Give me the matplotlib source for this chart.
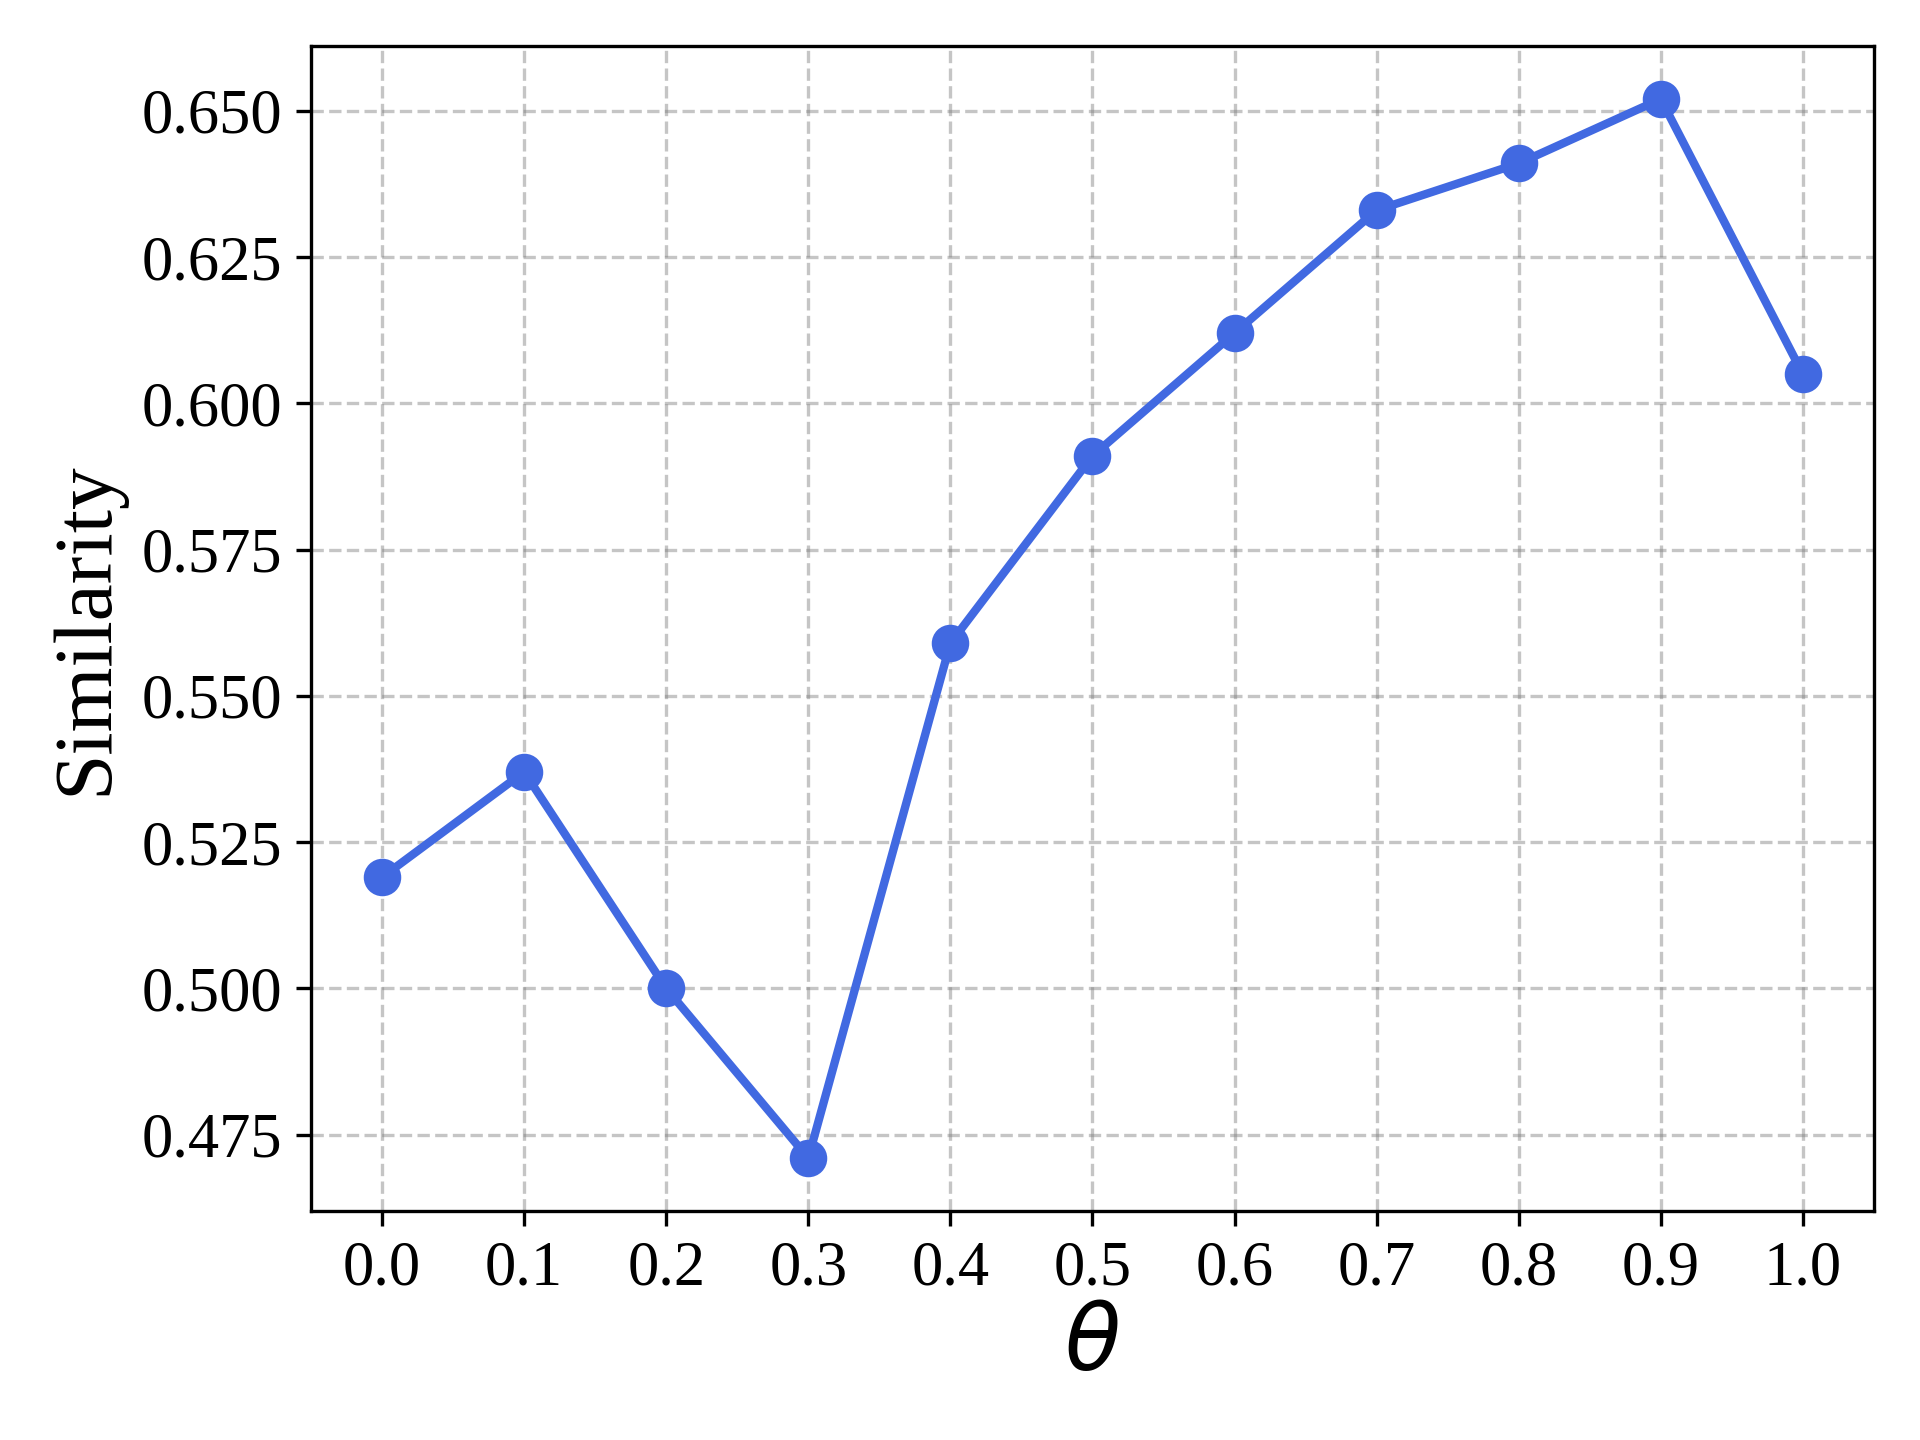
import matplotlib
matplotlib.use("Agg")
import matplotlib.pyplot as plt
from matplotlib import rcParams

# Times-like serif for everything
rcParams['font.family'] = ['Liberation Serif', 'DejaVu Serif']
rcParams['mathtext.fontset'] = 'dejavusans'

# data
theta = [0.0, 0.1, 0.2, 0.3, 0.4, 0.5, 0.6, 0.7, 0.8, 0.9, 1.0]
similarity = [0.519, 0.537, 0.500, 0.471, 0.559, 0.591, 0.612, 0.633, 0.641, 0.652, 0.605]
yticks = [0.475, 0.500, 0.525, 0.550, 0.575, 0.600, 0.625, 0.650]

fig, ax = plt.subplots(figsize=(6.4, 4.8), dpi=300)
ax.plot(theta, similarity, marker='o', color='royalblue', linewidth=2, markersize=8)

ax.set_xticks(theta)
ax.set_yticks(yticks)
ax.set_xticklabels([f"{t:.1f}" for t in theta])
ax.set_yticklabels([f"{v:.3f}" for v in yticks])
ax.tick_params(labelsize=15)

ax.set_xlabel(r"$\theta$", fontsize=22, labelpad=2)
ax.set_ylabel("Similarity", fontsize=20)
ax.grid(True, linestyle='--', color='gray', alpha=0.45, linewidth=0.8)

fig.subplots_adjust(left=0.162, right=0.976, top=0.968, bottom=0.159)
fig.savefig("out.png", dpi=300)
